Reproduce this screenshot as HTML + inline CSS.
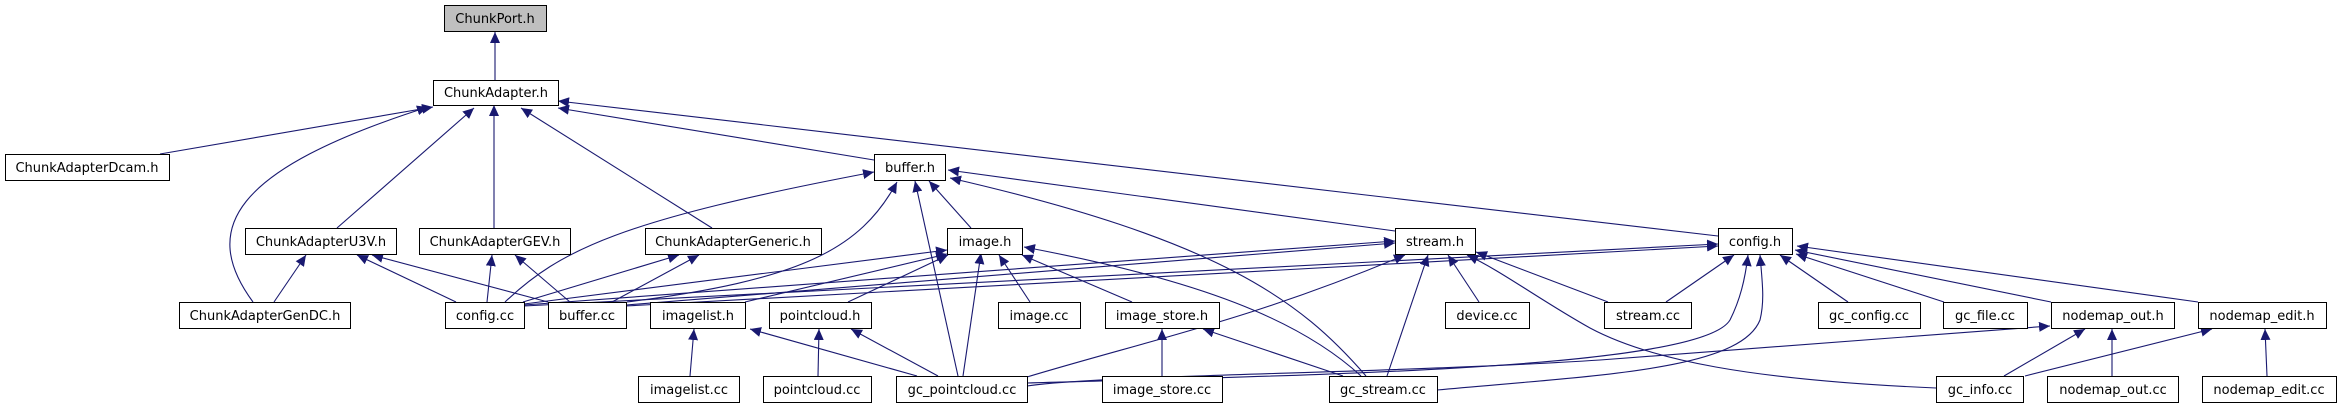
<!DOCTYPE html>
<html><head><meta charset="utf-8"><style>
html,body{margin:0;padding:0;background:#fff;width:2338px;height:411px;overflow:hidden}
svg text{font-family:"DejaVu Sans","Liberation Sans",sans-serif;font-size:13px;fill:#000}
</style></head><body>
<svg width="2338" height="411" viewBox="0 0 2338 411" xmlns="http://www.w3.org/2000/svg">
<defs><marker id="a" markerUnits="userSpaceOnUse" markerWidth="12" markerHeight="10" refX="11" refY="5" orient="auto"><path d="M0,0 L11,5 L0,10 Z" fill="#191970"/></marker></defs>
<g fill="none" stroke="#191970" stroke-width="1.1" marker-end="url(#a)">
<path d="M495,80 L495,32"/>
<path d="M160,154 L433,107"/>
<path d="M253,302 C200,230 230,170 428,107"/>
<path d="M337,228 L474,108"/>
<path d="M494,228 L494,105"/>
<path d="M712,228 L521,108"/>
<path d="M874,160 L558,108"/>
<path d="M1718,236 L558,101"/>
<path d="M274,302 L306,255"/>
<path d="M456,302 L357,255"/>
<path d="M548,302 L372,255"/>
<path d="M487,302 L492,255"/>
<path d="M570,302 L515,255"/>
<path d="M523,302 L679,255"/>
<path d="M612,302 L699,255"/>
<path d="M505,302 C560,250 620,220 874,172"/>
<path d="M627,302 C800,280 860,250 897,182"/>
<path d="M958,376 L915,181"/>
<path d="M971,228 L929,181"/>
<path d="M1366,376 C1300,300 1220,240 950,178"/>
<path d="M1395,231 L948,170"/>
<path d="M524,305 L1395,241"/>
<path d="M626,305 L1395,243"/>
<path d="M524,306 L1718,244"/>
<path d="M626,306 L1718,246"/>
<path d="M524,304 L947,250"/>
<path d="M745,302 L947,254"/>
<path d="M848,302 L948,255"/>
<path d="M963,376 L981,253"/>
<path d="M1030,302 L999,255"/>
<path d="M1132,302 L1022,255"/>
<path d="M1361,376 C1300,320 1200,280 1024,247"/>
<path d="M690,376 L694,329"/>
<path d="M917,376 L750,329"/>
<path d="M818,376 L819,329"/>
<path d="M938,376 L851,329"/>
<path d="M1162,376 L1162,329"/>
<path d="M1343,376 L1203,329"/>
<path d="M1027,377 C1150,340 1250,320 1405,255"/>
<path d="M1387,376 L1428,255"/>
<path d="M1479,302 L1448,255"/>
<path d="M1608,302 L1476,252"/>
<path d="M1936,388 C1750,380 1650,360 1590,328 C1540,300 1500,270 1467,255"/>
<path d="M1666,302 L1734,255"/>
<path d="M1027,383 C1300,375 1700,370 1730,320 C1740,300 1745,280 1748,255"/>
<path d="M1437,390 C1600,375 1740,370 1760,320 C1765,300 1762,280 1760,255"/>
<path d="M1848,302 L1780,255"/>
<path d="M1944,302 L1796,254"/>
<path d="M2051,302 L1795,250"/>
<path d="M2198,302 L1797,246"/>
<path d="M1027,386 C1100,375 1400,373 1600,360 L2050,326"/>
<path d="M2004,376 L2085,329"/>
<path d="M2112,376 L2112,329"/>
<path d="M2025,376 L2212,329"/>
<path d="M2267,376 L2265,329"/>
</g>
<g stroke="#000" stroke-width="1" fill="#fff">
<rect x="444.5" y="5.5" width="102" height="26" fill="#bfbfbf"/>
<rect x="433.5" y="80.5" width="125" height="25"/>
<rect x="5.5" y="154.5" width="164" height="26"/>
<rect x="874.5" y="154.5" width="71" height="26"/>
<rect x="245.5" y="228.5" width="151" height="26"/>
<rect x="419.5" y="228.5" width="151" height="26"/>
<rect x="645.5" y="228.5" width="176" height="26"/>
<rect x="947.5" y="228.5" width="75" height="26"/>
<rect x="1395.5" y="228.5" width="80" height="26"/>
<rect x="1718.5" y="228.5" width="74" height="26"/>
<rect x="179.5" y="302.5" width="171" height="26"/>
<rect x="445.5" y="302.5" width="79" height="26"/>
<rect x="548.5" y="302.5" width="78" height="26"/>
<rect x="650.5" y="302.5" width="95" height="26"/>
<rect x="769.5" y="302.5" width="102" height="26"/>
<rect x="998.5" y="302.5" width="82" height="26"/>
<rect x="1105.5" y="302.5" width="114" height="26"/>
<rect x="1445.5" y="302.5" width="84" height="26"/>
<rect x="1604.5" y="302.5" width="87" height="26"/>
<rect x="1818.5" y="302.5" width="102" height="26"/>
<rect x="1943.5" y="302.5" width="84" height="26"/>
<rect x="2051.5" y="302.5" width="123" height="26"/>
<rect x="2198.5" y="302.5" width="128" height="26"/>
<rect x="638.5" y="376.5" width="101" height="26"/>
<rect x="763.5" y="376.5" width="108" height="26"/>
<rect x="896.5" y="376.5" width="131" height="26"/>
<rect x="1102.5" y="376.5" width="120" height="26"/>
<rect x="1329.5" y="376.5" width="108" height="26"/>
<rect x="1936.5" y="376.5" width="87" height="26"/>
<rect x="2047.5" y="376.5" width="131" height="26"/>
<rect x="2202.5" y="376.5" width="134" height="26"/>
</g>
<g text-anchor="middle">
<text x="495" y="23">ChunkPort.h</text>
<text x="496" y="97">ChunkAdapter.h</text>
<text x="87" y="172">ChunkAdapterDcam.h</text>
<text x="910" y="172">buffer.h</text>
<text x="321" y="246">ChunkAdapterU3V.h</text>
<text x="495" y="246">ChunkAdapterGEV.h</text>
<text x="733" y="246">ChunkAdapterGeneric.h</text>
<text x="985" y="246">image.h</text>
<text x="1435" y="246">stream.h</text>
<text x="1755" y="246">config.h</text>
<text x="265" y="320">ChunkAdapterGenDC.h</text>
<text x="485" y="320">config.cc</text>
<text x="587" y="320">buffer.cc</text>
<text x="698" y="320">imagelist.h</text>
<text x="820" y="320">pointcloud.h</text>
<text x="1039" y="320">image.cc</text>
<text x="1162" y="320">image_store.h</text>
<text x="1487" y="320">device.cc</text>
<text x="1648" y="320">stream.cc</text>
<text x="1869" y="320">gc_config.cc</text>
<text x="1985" y="320">gc_file.cc</text>
<text x="2113" y="320">nodemap_out.h</text>
<text x="2262" y="320">nodemap_edit.h</text>
<text x="689" y="394">imagelist.cc</text>
<text x="817" y="394">pointcloud.cc</text>
<text x="962" y="394">gc_pointcloud.cc</text>
<text x="1162" y="394">image_store.cc</text>
<text x="1383" y="394">gc_stream.cc</text>
<text x="1980" y="394">gc_info.cc</text>
<text x="2113" y="394">nodemap_out.cc</text>
<text x="2269" y="394">nodemap_edit.cc</text>
</g>
</svg>
</body></html>
